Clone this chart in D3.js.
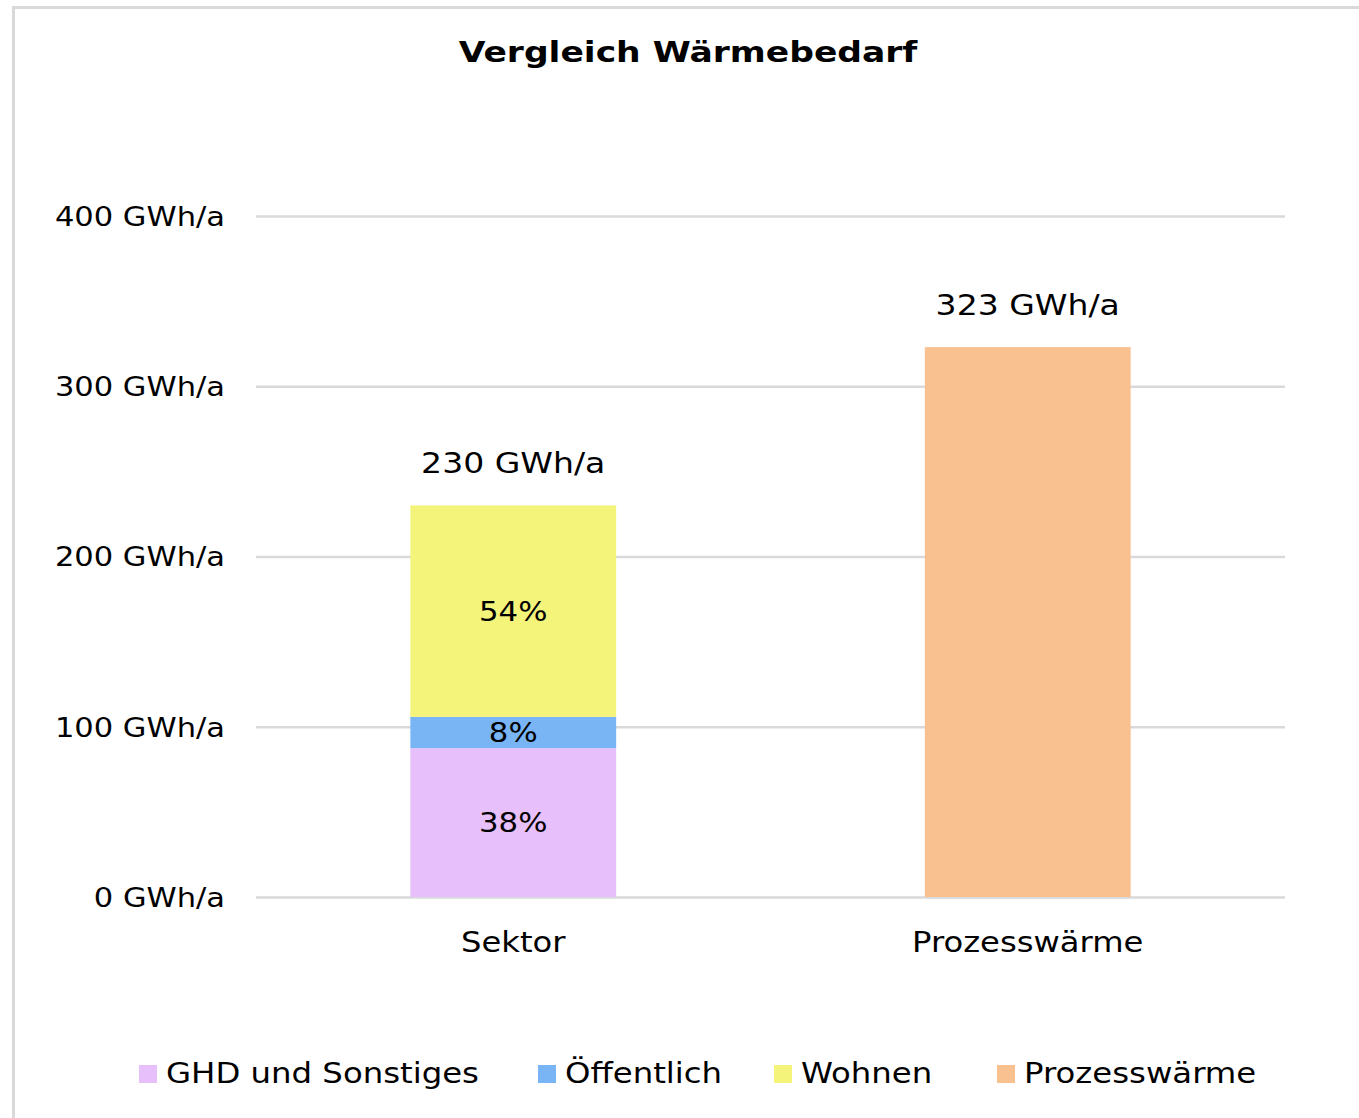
<!DOCTYPE html>
<html>
<head>
<meta charset="utf-8">
<script src="https://cdn.jsdelivr.net/npm/d3@7"></script>
<style>
  body { margin: 0; background: #fff; }
  text { font-family: "DejaVu Sans", Verdana, sans-serif; fill: #000; }
</style>
</head>
<body>
<div id="chart"></div>
<script>
// Daten
const categories = ["Sektor", "Prozesswärme"];
const seriesNames = ["GHD und Sonstiges", "Öffentlich", "Wohnen", "Prozesswärme"];
const seriesColors = ["#e7bffb", "#79b5f5", "#f4f37a", "#f9c190"];
// Werte je Serie, pro Kategorie (GWh/a)
const ghd = [87.4, 0];
const oeffentlich = [18.4, 0];
const wohnen = [124.2, 0];
const prozess = [0, 323];
const totals = ["230 GWh/a", "323 GWh/a"];
const shareLabels = [["38%", "8%", "54%", null], [null, null, null, null]];
const yTicks = [0, 100, 200, 300, 400];

const W = 1359, H = 1118;
const plot = { left: 256, right: 1285, top: 216, bottom: 897 };

// Verdana ist breiter als DejaVu -> Text etwas strecken
function widen(sel, k) {
  sel.each(function () {
    const len = this.getComputedTextLength();
    d3.select(this).attr("textLength", len * k).attr("lengthAdjust", "spacingAndGlyphs");
  });
}

const svg = d3.select("#chart").append("svg")
  .attr("width", W).attr("height", H);

// Rahmen
svg.append("rect")
  .attr("x", 13.5).attr("y", 7.5)
  .attr("width", W + 20).attr("height", H + 20)
  .attr("fill", "none").attr("stroke", "#d9d9d9").attr("stroke-width", 3);

svg.append("text")
  .attr("x", 688).attr("y", 62)
  .attr("text-anchor", "middle")
  .style("font-size", "29px").style("font-weight", "bold")
  .text("Vergleich Wärmebedarf")
  .call(widen, 1.19);

const x = d3.scaleBand()
  .domain(categories)
  .range([plot.left, plot.right])
  .paddingInner(0.6).paddingOuter(0.3);

const y = d3.scaleLinear()
  .domain([0, 400])
  .range([plot.bottom, plot.top]);

// Gitterlinien + Achse
const yAxis = svg.append("g")
  .attr("transform", "translate(" + plot.left + ",0)")
  .call(d3.axisLeft(y).tickValues(yTicks)
    .tickSize(-(plot.right - plot.left))
    .tickPadding(31)
    .tickFormat(d => d + " GWh/a"));
yAxis.select(".domain").remove();
yAxis.selectAll(".tick line").attr("stroke", "#d9d9d9").attr("stroke-width", 2.5);
yAxis.selectAll(".tick text")
  .style("font-size", "27px")
  .attr("dy", "0.35em")
  .style("font-family", "'DejaVu Sans', Verdana, sans-serif")
  .call(widen, 1.13);

// Stapel
const rows = categories.map((c, i) => ({
  cat: c, g: ghd[i], o: oeffentlich[i], w: wohnen[i], p: prozess[i]
}));
const stack = d3.stack().keys(["g", "o", "w", "p"])(rows);

stack.forEach((layer, si) => {
  svg.append("g").selectAll("rect")
    .data(layer)
    .enter().append("rect")
    .attr("x", d => x(d.data.cat))
    .attr("width", x.bandwidth())
    .attr("y", d => y(d[1]))
    .attr("height", d => y(d[0]) - y(d[1]))
    .attr("fill", seriesColors[si]);

  svg.append("g").selectAll("text")
    .data(layer.filter((d, i) => shareLabels[i][si]))
    .enter().append("text")
    .attr("x", d => x(d.data.cat) + x.bandwidth() / 2)
    .attr("y", d => (y(d[0]) + y(d[1])) / 2)
    .attr("dy", "0.36em")
    .attr("text-anchor", "middle")
    .style("font-size", "27px")
    .text((d) => shareLabels[categories.indexOf(d.data.cat)][si])
    .call(widen, 1.14);
});

// Summen
svg.append("g").selectAll("text")
  .data(rows)
  .enter().append("text")
  .attr("x", d => x(d.cat) + x.bandwidth() / 2)
  .attr("y", d => y(d.g + d.o + d.w + d.p) - 32)
  .attr("text-anchor", "middle")
  .style("font-size", "29px")
  .text((d, i) => totals[i])
  .call(widen, 1.14);

// Kategorien
svg.append("g").selectAll("text")
  .data(categories)
  .enter().append("text")
  .attr("x", d => x(d) + x.bandwidth() / 2)
  .attr("y", 952)
  .attr("text-anchor", "middle")
  .style("font-size", "28px")
  .text(d => d)
  .call(widen, 1.15);

// Legende
const legendX = [139, 538, 774, 997];
const legend = svg.append("g").selectAll("g")
  .data(seriesNames)
  .enter().append("g")
  .attr("transform", (d, i) => "translate(" + legendX[i] + ",1065)");
legend.append("rect")
  .attr("width", 18).attr("height", 18)
  .attr("fill", (d, i) => seriesColors[i]);
legend.append("text")
  .attr("x", 27).attr("y", 18)
  .style("font-size", "28px")
  .text(d => d)
  .call(widen, 1.155);
</script>
</body>
</html>
